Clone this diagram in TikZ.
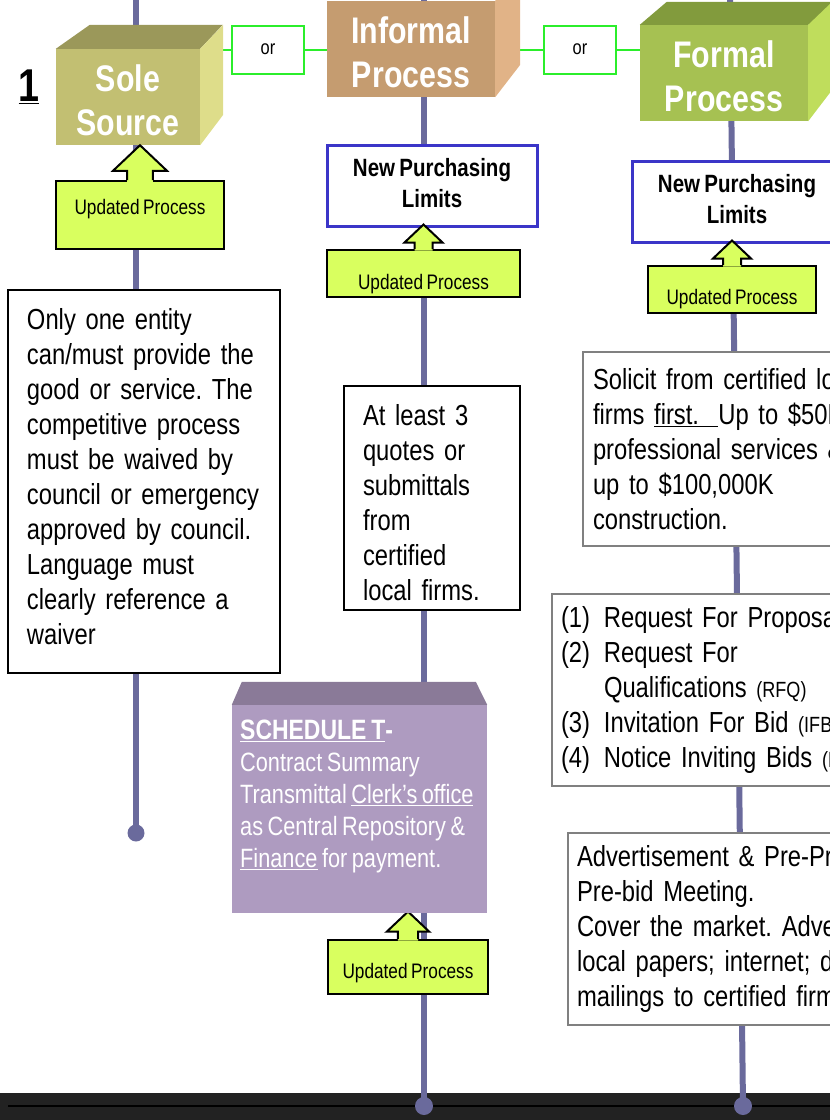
\documentclass[tikz,border=0pt]{standalone}
\usepackage{fontspec}
\setmainfont{Liberation Sans}[FakeStretch=0.82, WordSpace=0.75]
\frenchspacing
\usetikzlibrary{calc,backgrounds}

\definecolor{linecol}{HTML}{6A6A9C}
\definecolor{orgreen}{HTML}{2BEE2B}
\definecolor{nplblue}{HTML}{3B35C8}
\definecolor{updlime}{HTML}{D9FF5F}
\definecolor{solefront}{HTML}{C2BF72}
\definecolor{soletop}{HTML}{9B985A}
\definecolor{soleside}{HTML}{DEDD8A}
\definecolor{inffront}{HTML}{C59C70}
\definecolor{infside}{HTML}{E1B387}
\definecolor{forfront}{HTML}{A6C152}
\definecolor{fortop}{HTML}{829B3D}
\definecolor{forside}{HTML}{BFDD5C}
\definecolor{schedtop}{HTML}{8A7A98}
\definecolor{schedfront}{HTML}{AE9BC0}
\definecolor{boxgray}{HTML}{808080}
\definecolor{barcol}{HTML}{222222}

\newcommand{\bodyfont}{\fontsize{29}{35}\selectfont}
\newcommand{\titlefont}{\fontsize{37}{44}\selectfont\bfseries}
\newcommand{\nplfont}{\fontsize{25}{31}\selectfont\bfseries}
\newcommand{\schedfont}{\fontsize{26.5}{32}\selectfont}
\newcommand{\abbrfont}{\fontsize{22}{35}\selectfont}

% callout: name, x, y, width, height, text shift, arrow scale
\newcommand{\updbox}[7]{%
  \node[upd, minimum width=#4, minimum height=#5] (#1) at (#2,#3) {};
  \fill[updlime, shift={(#1.north)}, scale=#7] (-9,1.5) -- (-9,-6.5) -- (-19,-6.5) -- (0,-24.5)
    -- (19,-6.5) -- (9,-6.5) -- (9,1.5) -- cycle;
  \draw[line width=2pt, shift={(#1.north)}, scale=#7] (-9,0) -- (-9,-6.5) -- (-19,-6.5) -- (0,-24.5)
    -- (19,-6.5) -- (9,-6.5) -- (9,0);
  \node[updtext] (#1t) at ($(#1)+(0,#6)$) {Updated Process};
}

\begin{document}
\begin{tikzpicture}[x=1pt, y=-1pt,
  vline/.style={line width=6pt, draw=linecol},
  orline/.style={line width=2pt, draw=orgreen},
  orbox/.style={draw=orgreen, line width=2pt, fill=white, minimum width=72, minimum height=48,
    font=\fontsize{20}{22}\selectfont},
  front/.style={inner sep=0pt, text=white, align=center, font=\titlefont, text height=77pt},
  npl/.style={draw=nplblue, line width=3pt, fill=white, align=center, font=\nplfont, text depth=6pt},
  upd/.style={draw=black, line width=2pt, fill=updlime},
  updtext/.style={font=\fontsize{21}{24}\selectfont},
  textbox/.style={draw=black, line width=1.5pt, fill=white, align=left, font=\bodyfont, inner ysep=0pt},
  graybox/.style={textbox, draw=boxgray, line width=2pt}]

  \useasboundingbox (0,0) rectangle (830,1120);
  \clip (0,0) rectangle (830,1120);

  \coordinate (ltop) at (136,0);
  \coordinate (lend) at (136,833);
  \coordinate (mtop) at (424,0);
  \coordinate (mend) at (424,1106);
  \coordinate (rtop) at (730,0);
  \coordinate (rend) at (743,1106);

  \node[font=\fontsize{46}{50}\selectfont\bfseries] (num) at (29,87) {\underline{1}};

  % three process blocks
  \node[front, fill=solefront, minimum width=144, minimum height=96] (sole) at (128,97) {Sole\\Source};
  \fill[soletop] (sole.north west) -- ++(34,-24) -- ++(133,0) -- (sole.north east) -- cycle;
  \fill[soleside] (sole.north east) -- ++(23,-24) -- ++(0,90) -- (sole.south east) -- cycle;

  \node[front, fill=inffront, minimum width=168, minimum height=96] (informal) at (411,49) {Informal\\Process};
  \fill[infside] (informal.north east) -- ++(25,-26) -- ++(0,90) -- (informal.south east) -- cycle;

  \node[front, fill=forfront, minimum width=168, minimum height=96] (formal) at (724,73) {Formal\\Process};
  \fill[fortop] (formal.north west) -- ++(27,-23) -- ++(180,0) -- (formal.north east) -- cycle;
  \fill[forside] (formal.north east) -- ++(24,-23) -- ++(0,88) -- (formal.south east) -- cycle;

  \node[orbox] (or1) at (268,49.5) {or};
  \node[orbox] (or2) at (580,49.5) {or};

  \node[npl, minimum width=210, minimum height=81] (npl1) at (432,185.5) {New Purchasing\\Limits};
  \node[npl, minimum width=210, minimum height=81] (npl2) at (737,201.5) {New Purchasing\\Limits};

  \updbox{upd1}{140}{215}{168}{68}{-6}{1.42}
  \updbox{upd2}{423.5}{273.5}{193}{47}{11}{1}
  \updbox{upd3}{732}{289.5}{168}{47}{10}{1}
  \updbox{upd4}{408}{967}{160}{54}{6}{1.12}

  % text boxes
  \node[textbox, text width=234, inner xsep=19, minimum height=383, text height=11pt] (soletxt) at (144,481.5)
    {Only one entity\\can/must provide the\\good or service. The\\competitive process\\must be waived by\\council or emergency\\approved by council.\\Language must\\clearly reference a\\waiver};
  \node[textbox, text width=138, inner xsep=19, minimum height=224, text height=31pt] (inftxt) at (432,498)
    {At least 3\\quotes or\\submittals\\from\\certified\\local firms.};

  \node[graybox, text width=400, inner xsep=10, minimum height=194] (fortxt) at (793,449)
    {Solicit from certified local\\firms \underline{first.\ \ }Up to \$50K\\professional services \&\\up to \$100,000K\\construction.};
  \node[graybox, text width=400, inner xsep=9, minimum height=192] (forlist) at (761,690)
    {\makebox[43pt][l]{(1)}Request For Proposals\\
     \makebox[43pt][l]{(2)}Request For\\
     \hspace*{43pt}Qualifications {\abbrfont(RFQ)}\\
     \makebox[43pt][l]{(3)}Invitation For Bid {\abbrfont(IFB)}\\
     \makebox[43pt][l]{(4)}Notice Inviting Bids {\abbrfont(NIB)}};
  \node[graybox, text width=400, inner xsep=9, minimum height=192] (foradv) at (777,929)
    {Advertisement \& Pre-Proposal\\Pre-bid Meeting.\\Cover the market. Advertise in\\local papers; internet; direct\\mailings to certified firms.};

  % schedule T block
  \node[fill=schedfront, minimum width=255, minimum height=208, inner sep=0pt] (sched) at (359.5,809) {};
  \fill[schedtop] (sched.north west) -- ++(10,-23) -- ++(234,0) -- (sched.north east) -- cycle;
  \node[anchor=north west, text=white, align=left, font=\schedfont, inner sep=0pt] (schedtxt) at (240,720)
    {{\fontsize{28}{32}\selectfont\bfseries\underline{SCHEDULE T}-}\\Contract Summary\\Transmittal \underline{Clerk’s office}\\as Central Repository \&\\\underline{Finance} for payment.};

  \begin{pgfonlayer}{background}
    \fill[barcol] (0,1093) rectangle (830,1120);
    \draw[line width=2pt, black] (8,1106) -- (830,1106);
    \draw[vline] (ltop) -- (lend);
    \draw[vline] (mtop) -- (mend);
    \draw[vline] (rtop) -- (rend);
    \fill[linecol] (lend) circle (8.5);
    \fill[linecol] (mend) circle (9);
    \fill[linecol] (rend) circle (9);
    \draw[orline] (or1.west) -- (or1.west -| sole.east);
    \draw[orline] (or1.east) -- (or1.east -| informal.west);
    \draw[orline] (or2.west) -- (or2.west -| informal.east);
    \draw[orline] (or2.east) -- (or2.east -| formal.west);
  \end{pgfonlayer}
\end{tikzpicture}
\end{document}
